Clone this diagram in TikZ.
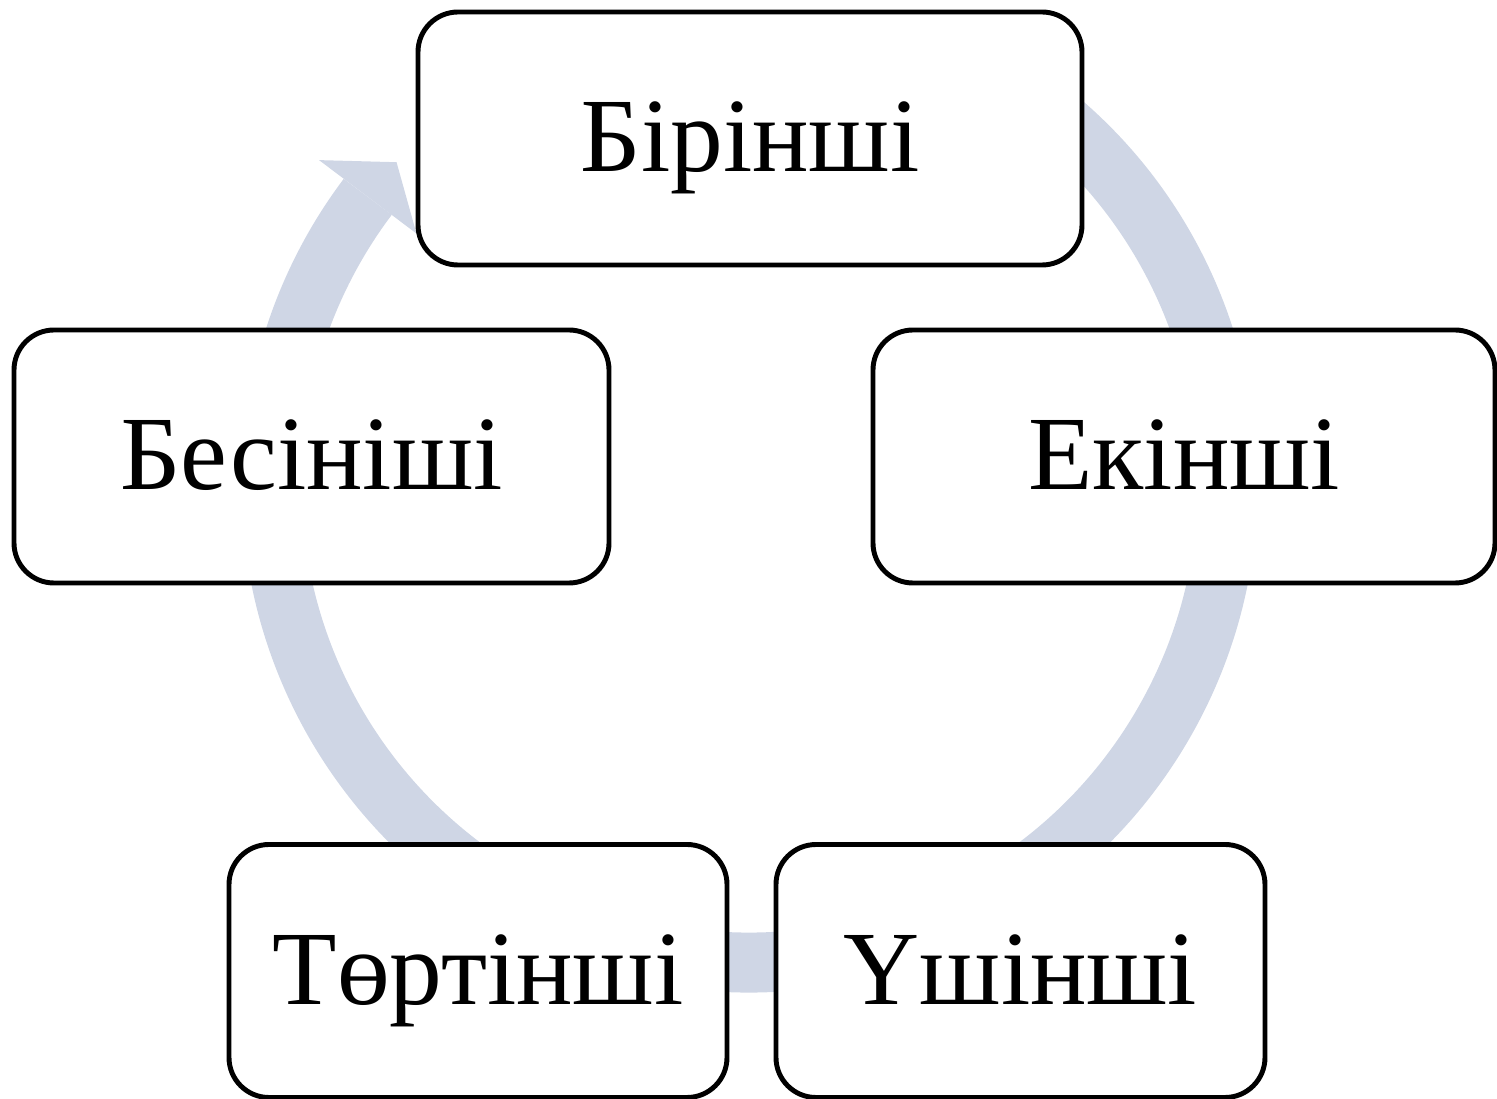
\documentclass[tikz,border=0pt]{standalone}
\usepackage{fontspec}
\setmainfont{Liberation Serif}
\definecolor{ringblue}{RGB}{207,214,229}
\tikzstyle{bx}=[rectangle,rounded corners=0.4cm,draw=black,line width=1.4pt,fill=white,minimum height=2.53cm,text height=0.9cm,text depth=0.23cm,font=\fontsize{30}{36}\selectfont]
\tikzstyle{ring}=[draw=ringblue,line width=0.6cm]

\begin{document}
\begin{tikzpicture}
\useasboundingbox (0,0) rectangle (14.97,10.99);
\coordinate (c) at (7.495,6.145);
\draw[ring] ([shift={(60:4.78)}]c) arc (60:-217:4.78);
\fill[ringblue] ([shift={(143:5.39)}]c) -- ([shift={(137.6:4.78)}]c) -- ([shift={(143:4.17)}]c) -- cycle;
\node[bx,minimum width=6.64cm] (b1) at (7.50,9.605) {Бірінші};
\node[bx,minimum width=6.22cm] (b2) at (11.84,6.425) {Екінші};
\node[bx,minimum width=4.89cm] (b3) at (10.205,1.28) {Үшінші};
\node[bx,minimum width=4.98cm] (b4) at (4.78,1.28) {Төртінші};
\node[bx,minimum width=5.95cm] (b5) at (3.115,6.425) {Бесініші};
\end{tikzpicture}
\end{document}
